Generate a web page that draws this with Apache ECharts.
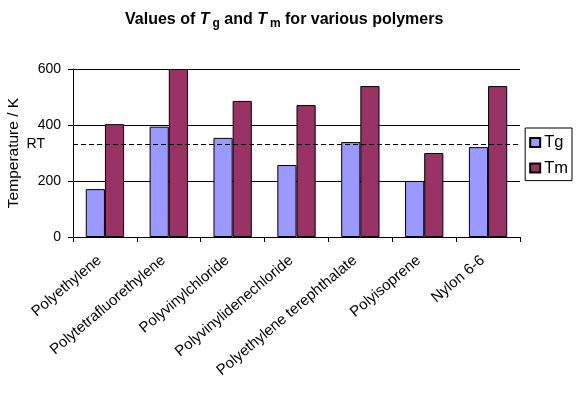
<!DOCTYPE html>
<html><head><meta charset="utf-8">
<script src="https://cdn.jsdelivr.net/npm/echarts@6/dist/echarts.min.js"></script>
<style>html,body{margin:0;padding:0;background:#fff}#c{width:580px;height:393px}</style>
</head><body><div id="c"></div>
<script>
var categories = ['Polyethylene','Polytetrafluorethylene','Polyvinylchloride','Polyvinylidenechloride','Polyethylene terephthalate','Polyisoprene','Nylon 6-6'];
var tg = [171, 394, 354, 257, 339, 200, 321];
var tm = [403, 600, 486, 471, 539, 300, 539];
var roomTemp = 330;
var yTicks = [0, 200, 400, 600];

var FONT = 'Liberation Sans, Arial, sans-serif';
var chart = echarts.init(document.getElementById('c'));
chart.setOption({
  backgroundColor: '#fff',
  animation: false,
  title: {
    text: '{b|Values of }{i|T}{s|g}{b| and }{i|T}{s|m}{b| for various polymers}',
    left: 120, top: 5,
    textStyle: {
      rich: {
        b: {fontFamily: FONT, fontWeight: 'bold', fontSize: 16, color: '#000'},
        i: {fontFamily: FONT, fontWeight: 'bold', fontStyle: 'italic', fontSize: 16, color: '#000', padding: [0, 3, 0, 0]},
        s: {fontFamily: FONT, fontWeight: 'bold', fontSize: 12, color: '#000', padding: [8, 0, 0, 0]}
      }
    }
  },
  legend: {
    orient: 'vertical', right: 8, top: 128,
    data: ['Tg', 'Tm'],
    icon: 'rect',
    itemWidth: 10, itemHeight: 9, itemGap: 8.6,
    padding: [6, 4, 4, 4],
    borderColor: '#000', borderWidth: 1,
    textStyle: {fontFamily: FONT, fontSize: 16.5, lineHeight: 14, color: '#000', padding: [0, 0, 0, -1]}
  },
  grid: {left: 73, right: 60, top: 69, bottom: 156, containLabel: false, outerBoundsMode: 'none'},
  xAxis: {
    type: 'category', data: categories,
    axisLine: {lineStyle: {color: '#000'}},
    axisTick: {show: true, length: 5, lineStyle: {color: '#000'}},
    axisLabel: {rotate: 40, interval: 0, fontFamily: FONT, fontSize: 15, color: '#000', margin: 17,
      padding: [0, 7, 0, 0]}
  },
  yAxis: {
    type: 'value', min: 0, max: 600, interval: 200,
    name: 'Temperature / K', nameLocation: 'middle', nameGap: 51,
    nameTextStyle: {fontFamily: FONT, fontSize: 15.5, color: '#000'},
    axisLine: {show: true, lineStyle: {color: '#000'}},
    axisTick: {show: true, length: 5, lineStyle: {color: '#000'}},
    axisLabel: {fontFamily: FONT, fontSize: 14, color: '#000', margin: 12,
      formatter: function(v){ return yTicks.indexOf(v) >= 0 ? String(v) : ''; }},
    splitLine: {show: true, lineStyle: {color: '#000', width: 1}}
  },
  series: [
    {
      name: 'Tg', type: 'bar', data: tg, barGap: '0%', barCategoryGap: '40%',
      itemStyle: {color: '#9999ff', borderColor: '#000', borderWidth: 1},
      markLine: {
        silent: true, symbol: 'none',
        lineStyle: {color: '#000', type: [5, 3], width: 1},
        label: {show: true, position: 'start', formatter: 'RT', distance: 28,
          fontFamily: FONT, fontSize: 14, color: '#000'},
        data: [{yAxis: roomTemp}]
      }
    },
    {
      name: 'Tm', type: 'bar', data: tm,
      itemStyle: {color: '#993366', borderColor: '#000', borderWidth: 1}
    }
  ]
});
</script></body></html>
